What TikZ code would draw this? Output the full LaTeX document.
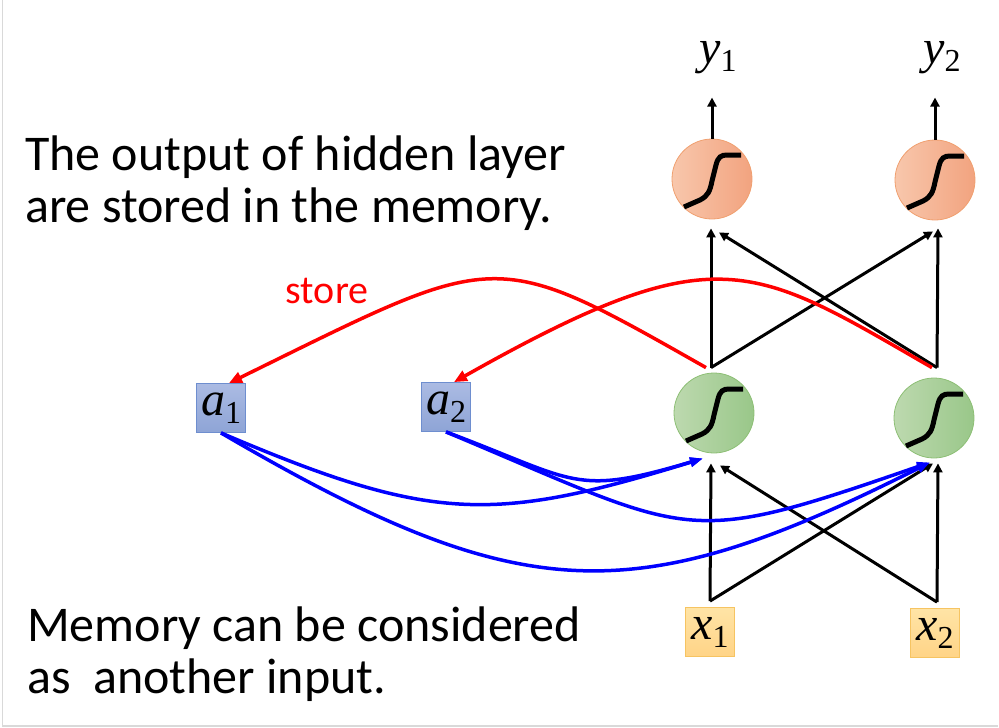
\documentclass[tikz,border=0pt]{standalone}
\usepackage{fontspec}
\setmainfont{Carlito}
\newfontfamily\tnr{Liberation Serif}
\usetikzlibrary{arrows.meta}
\definecolor{outL}{HTML}{F8C7AC}
\definecolor{outR}{HTML}{F2A37F}
\definecolor{outD}{HTML}{F0A070}
\definecolor{hidL}{HTML}{BDD9AF}
\definecolor{hidR}{HTML}{99C789}
\definecolor{hidD}{HTML}{8DBF75}
\definecolor{memT}{HTML}{ABBBE3}
\definecolor{memB}{HTML}{8EA4D6}
\definecolor{memD}{HTML}{6E8ECF}
\definecolor{inT}{HTML}{FFE4A6}
\definecolor{inB}{HTML}{FFD487}
\definecolor{inD}{HTML}{F6C462}
\newcommand{\varlab}[2]{{\tnr\fontsize{48}{48}\selectfont\itshape #1}\raisebox{-8pt}{\tnr\fontsize{32}{32}\selectfont #2}}
\newcommand{\sigmoid}[1]{%
  \draw[line width=5pt, shift={(#1)}] (-28,28) -- (-12,21) .. controls (-4,17) and (-2,12) .. (0,2)
    -- (4,-14) .. controls (6,-22) and (9,-24) .. (15,-24) -- (29,-24);
}

\begin{document}
\begin{tikzpicture}[
    x=1pt, y=-1pt,
    unit/.style={circle, minimum size=80pt, inner sep=0pt, line width=0.8pt},
    outunit/.style={unit, draw=outD, left color=outL, right color=outR},
    hidunit/.style={unit, draw=hidD, left color=hidL, right color=hidR},
    varbox/.style={rectangle, minimum size=49pt, inner sep=0pt, line width=0.8pt},
    membox/.style={varbox, draw=memD, top color=memT, bottom color=memB},
    inbox/.style={varbox, draw=inD, top color=inT, bottom color=inB},
    outlab/.style={inner xsep=0pt, inner ysep=24pt, anchor=base},
    wire/.style={line width=3pt, -{Triangle[length=9pt,width=9pt]}},
    storeline/.style={red, line width=3.5pt, -{Triangle[length=13pt,width=11pt]}},
    feed/.style={blue, line width=3.5pt, -{Triangle[length=13pt,width=9pt]}},
    note/.style={anchor=base west, align=left, inner sep=0pt, font=\fontsize{50}{52}\selectfont}
]
    \useasboundingbox (0,0) rectangle (999,728);
    \draw[black!15, line width=1.2pt] (2.5,0) -- (2.5,726) -- (998,726);

    \node[note] (top) at (25,222) {The output of hidden layer\\are stored in the memory.};
    \node[note] (bottom) at (27,693) {Memory can be considered\\as\ \ another input.};

    \node[outunit] (o1) at (712,179) {};
    \node[outunit] (o2) at (935,180) {};
    \node[hidunit] (h1) at (714,413) {};
    \node[hidunit] (h2) at (934,418) {};
    \node[inbox] (x1) at (710,632) {\varlab{x}{1}};
    \node[inbox] (x2) at (935,633) {\varlab{x}{2}};
    \node[membox] (a1) at (221,408) {\varlab{a}{1}};
    \node[membox] (a2) at (446,407) {\varlab{a}{2}};
    \node[outlab] (y1) at (718,63) {\varlab{y}{1}};
    \node[outlab] (y2) at (942,63) {\varlab{y}{2}};
    \node[red, font=\fontsize{40}{40}\selectfont] (storelab) at (327,291) {store};

    \sigmoid{o1}
    \sigmoid{o2}
    \sigmoid{h1}
    \sigmoid{h2}

    % ports
    \coordinate (x1p) at ([yshift=6pt]x1.north);
    \coordinate (x2p) at ([xshift=2pt,yshift=6pt]x2.north);
    \coordinate (h1p) at ([xshift=-3pt,yshift=5pt]h1.north);
    \coordinate (h2p) at ([xshift=3pt,yshift=10pt]h2.north);

    \draw[wire] (o1.north) -- (o1.north |- y1.south);
    \draw[wire] (o2.north) -- (o2.north |- y2.south);

    \draw[wire] (h1p) -- ([xshift=-1pt,yshift=-9pt]o1.south);
    \draw[wire] (h1p) -- ([xshift=-2pt,yshift=-11pt]o2.south);
    \draw[wire] (h2p) -- ([xshift=3pt,yshift=-8pt]o2.south);
    \draw[wire] (h2p) -- ([xshift=7pt,yshift=-13pt]o1.south);

    \draw[wire] (x1p) -- ([xshift=-3pt,yshift=-10pt]h1.south);
    \draw[wire] (x1p) -- ([xshift=-1pt,yshift=-5pt]h2.south);
    \draw[wire] (x2p) -- ([xshift=4pt,yshift=-5pt]h2.south);
    \draw[wire] (x2p) -- ([xshift=6pt,yshift=-12pt]h1.south);

    \draw[storeline] ([xshift=-8pt,yshift=5pt]h1.north) .. controls (490,245) and (500,250) .. ([xshift=8pt]a1.north);
    \draw[storeline] ([xshift=-2pt,yshift=10pt]h2.north) .. controls (752,264) and (718,233) .. ([xshift=8pt]a2.north);

    \draw[feed] (a1.south) .. controls (432,523) and (493,523) .. ([xshift=-11pt,yshift=-5pt]h1.south);
    \draw[feed] (a1.south) .. controls (522,609) and (633,612) .. ([xshift=-4pt,yshift=-4pt]h2.south);
    \draw[feed] (a2.south) .. controls (577,481) and (573,497) .. ([xshift=-11pt,yshift=-5pt]h1.south);
    \draw[feed] (a2.south) .. controls (697,537) and (680,549) .. ([xshift=-4pt,yshift=-4pt]h2.south);
\end{tikzpicture}
\end{document}
